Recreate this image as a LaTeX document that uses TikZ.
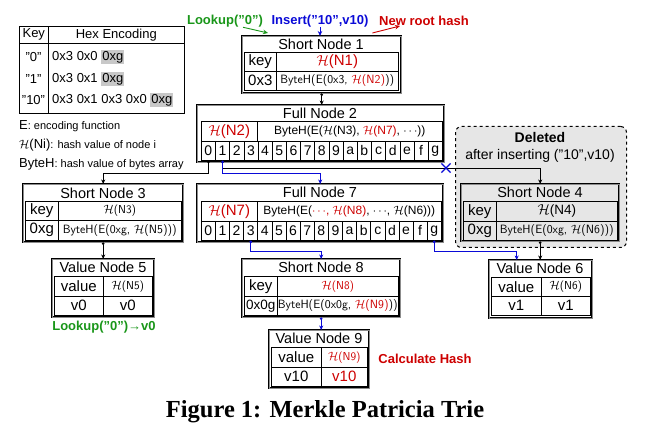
\documentclass[tikz,border=0pt]{standalone}
\usepackage{fontspec}
\setmainfont{Liberation Sans}
\newfontfamily\capfont{Liberation Serif}
\usetikzlibrary{arrows.meta,calc,shapes.misc}

\definecolor{lkgreen}{RGB}{25,150,25}
\definecolor{insblue}{RGB}{10,10,215}
\definecolor{hashred}{RGB}{205,0,0}
\definecolor{delgray}{RGB}{230,230,230}
\definecolor{hlgray}{RGB}{200,200,200}

\newcommand{\hashof}[1]{$\mathcal{H}$(#1)}
\newcommand{\inred}[1]{\textcolor{hashred}{#1}}
\newcommand{\hlbox}[1]{{\setlength{\fboxsep}{1pt}\colorbox{hlgray}{#1}}}
\newcommand{\fs}[1]{\fontsize{#1}{#1}\selectfont}

\begin{document}
\begin{tikzpicture}[x=1pt,y=-1pt,
  frame/.style={draw=black, double=black!45, double distance=1.1pt, line width=.4pt, inner sep=0, anchor=north west},
  cell/.style={draw, line width=.6pt, inner sep=0, anchor=north west, font=\fs{15}},
  ttl/.style={font=\fs{14.5}, inner sep=0},
  byteh/.style={font=\sffamily\fs{12}},
  hsm/.style={font=\sffamily\fs{11.5}},
  hx/.style={font=\fs{13}, inner sep=0},
  tag/.style={font=\bfseries\fs{13}, inner sep=0},
  arr/.style={line width=.9pt, -{Stealth[length=5pt,width=4.5pt]}},
  link/.style={line width=.8pt, {Circle[length=2.6pt]}-{Stealth[length=4.5pt,width=4pt]}}]
\useasboundingbox (0,0) rectangle (649,438);

% hex encoding table and legend
\node[cell, font=\fs{13}, minimum width=29pt, minimum height=17pt] (hkey) at (19,26) {Key};
\node[cell, font=\fs{13}, minimum width=136pt, minimum height=17pt] (henc) at (48,26) {Hex Encoding};
\node[cell, minimum width=29pt, minimum height=70pt] (hkcol) at (19,43) {};
\node[cell, minimum width=136pt, minimum height=70pt] (hecol) at (48,43) {};
\node[hx] (k0) at (33.5,57) {"0"};
\node[hx] (k1) at (33.5,79) {"1"};
\node[hx] (k10) at (33.5,100) {"10"};
\node[hx, anchor=west] (e0) at (52,57) {0x3 0x0 \hlbox{0xg}};
\node[hx, anchor=west] (e1) at (52,79) {0x3 0x1 \hlbox{0xg}};
\node[hx, anchor=west] (e10) at (52,100) {0x3 0x1 0x3 0x0 \hlbox{0xg}};
\node[hx, anchor=west] (lgE) at (19,126) {E{\fs{11}: encoding function}};
\node[hx, anchor=west] (lgH) at (19,145) {\hashof{Ni}{\fs{11}: hash value of node i}};
\node[hx, anchor=west] (lgB) at (19,164) {ByteH{\fs{11}: hash value of bytes array}};

% operations
\node[tag, text=lkgreen] (lkp) at (225,21) {Lookup("0")};
\node[tag, text=insblue] (ins) at (320,21) {Insert("10",v10)};
\node[tag, text=hashred, anchor=west] (nrh) at (379,21) {New root hash};

% deleted part
\node[draw, dashed, line width=1pt, rounded corners=6pt, fill=delgray, anchor=north west,
  minimum width=171pt, minimum height=121pt, inner sep=0] (del) at (455,126) {};
\node[font=\bfseries\fs{14}, inner sep=0] (delt) at (540,137) {Deleted};
\node[font=\fs{14}, inner sep=0] (dels) at (540,156) {after inserting ("10",v10)};

% short node 1
\node[frame, minimum width=159pt, minimum height=57pt] (sn1) at (242,36) {};
\node[ttl] (sn1t) at (321,44) {Short Node 1};
\node[cell, minimum width=32pt, minimum height=19pt] (sn1k) at (244,52) {key};
\node[cell, minimum width=122pt, minimum height=19pt, text=hashred] (sn1h) at (276,52) {\hashof{N1}};
\node[cell, minimum width=32pt, minimum height=19pt] (sn1p) at (244,71) {0x3};
\node[cell, byteh, minimum width=122pt, minimum height=19pt] (sn1b) at (276,71) {ByteH(E(0x3, \inred{\hashof{N2}}))};

% full node 2
\node[frame, minimum width=247pt, minimum height=57pt] (fn2) at (197,105) {};
\node[ttl] (fn2t) at (320,113) {Full Node 2};
\node[cell, minimum width=56pt, minimum height=20pt, text=hashred] (fn2h) at (201,121) {\hashof{N2}};
\node[cell, font=\fs{12}, minimum width=185pt, minimum height=20pt] (fn2b) at (257,121) {ByteH(E(\hashof{N3}, \inred{\hashof{N7}}, $\cdots$))};
\foreach \c [count=\i from 0] in {0,1,2,3,4,5,6,7,8,9,a,b,c,d,e,f,g}
  \node[cell, font=\fs{14}, minimum width=14.18pt, minimum height=19pt] (fn2c\c) at ({201+14.18*\i},141) {\c};

% short node 3 and value node 5
\node[frame, minimum width=160pt, minimum height=58pt] (sn3) at (23,184) {};
\node[ttl] (sn3t) at (103,193) {Short Node 3};
\node[cell, minimum width=33pt, minimum height=19pt] (sn3k) at (25,201) {key};
\node[cell, hsm, minimum width=123pt, minimum height=19pt] (sn3h) at (58,201) {\hashof{N3}};
\node[cell, minimum width=33pt, minimum height=20pt] (sn3p) at (25,220) {0xg};
\node[cell, byteh, minimum width=123pt, minimum height=20pt] (sn3b) at (58,220) {ByteH(E(0xg, \hashof{N5}))};

\node[frame, minimum width=102pt, minimum height=58pt] (vn5) at (52,259) {};
\node[ttl] (vn5t) at (103,267) {Value Node 5};
\node[cell, minimum width=49pt, minimum height=20pt] (vn5k) at (54,276) {value};
\node[cell, hsm, minimum width=49pt, minimum height=20pt] (vn5h) at (103,276) {\hashof{N5}};
\node[cell, minimum width=49pt, minimum height=19pt] (vn5v) at (54,296) {v0};
\node[cell, minimum width=49pt, minimum height=19pt] (vn5w) at (103,296) {v0};
\node[tag, text=lkgreen] (lkr) at (104,327) {Lookup("0")→v0};

% full node 7
\node[frame, minimum width=246pt, minimum height=58pt] (fn7) at (197,184) {};
\node[ttl] (fn7t) at (320,192) {Full Node 7};
\node[cell, minimum width=56pt, minimum height=20pt, text=hashred] (fn7h) at (201,201) {\hashof{N7}};
\node[cell, font=\fs{12}, minimum width=184pt, minimum height=20pt] (fn7b) at (257,201) {ByteH(E(\inred{$\cdots$, \hashof{N8}}, $\cdots$, \hashof{N6}))};
\foreach \c [count=\i from 0] in {0,1,2,3,4,5,6,7,8,9,a,b,c,d,e,f,g}
  \node[cell, font=\fs{14}, minimum width=14.12pt, minimum height=19pt] (fn7c\c) at ({201+14.12*\i},221) {\c};

% short node 4 and value node 6
\node[frame, minimum width=158pt, minimum height=57pt] (sn4) at (461,184) {};
\node[ttl] (sn4t) at (540,192) {Short Node 4};
\node[cell, minimum width=33pt, minimum height=20pt] (sn4k) at (463,201) {key};
\node[cell, hsm, font=\fs{13.5}, minimum width=121pt, minimum height=20pt] (sn4h) at (496,201) {\hashof{N4}};
\node[cell, minimum width=33pt, minimum height=19pt] (sn4p) at (463,221) {0xg};
\node[cell, byteh, minimum width=121pt, minimum height=19pt] (sn4b) at (496,221) {ByteH(E(0xg, \hashof{N6}))};

\node[frame, minimum width=103pt, minimum height=58pt] (vn6) at (489,260) {};
\node[ttl] (vn6t) at (540,268) {Value Node 6};
\node[cell, minimum width=50pt, minimum height=19pt] (vn6k) at (491,277) {value};
\node[cell, hsm, minimum width=49pt, minimum height=19pt] (vn6h) at (541,277) {\hashof{N6}};
\node[cell, minimum width=50pt, minimum height=19pt] (vn6v) at (491,296) {v1};
\node[cell, minimum width=49pt, minimum height=19pt] (vn6w) at (541,296) {v1};

% short node 8 and value node 9
\node[frame, minimum width=158pt, minimum height=58pt] (sn8) at (242,259) {};
\node[ttl] (sn8t) at (321,267) {Short Node 8};
\node[cell, minimum width=33pt, minimum height=20pt] (sn8k) at (244,276) {key};
\node[cell, hsm, text=hashred, minimum width=121pt, minimum height=20pt] (sn8h) at (277,276) {\hashof{N8}};
\node[cell, font=\fs{13.5}, minimum width=33pt, minimum height=19pt] (sn8p) at (244,296) {0x0g};
\node[cell, byteh, minimum width=121pt, minimum height=19pt] (sn8b) at (277,296) {ByteH(E(0x0g, \inred{\hashof{N9}}))};

\node[frame, minimum width=100pt, minimum height=58pt] (vn9) at (269,330) {};
\node[ttl] (vn9t) at (319,338) {Value Node 9};
\node[cell, minimum width=50pt, minimum height=20pt] (vn9k) at (271,347) {value};
\node[cell, hsm, text=hashred, minimum width=46pt, minimum height=20pt] (vn9h) at (321,347) {\hashof{N9}};
\node[cell, minimum width=50pt, minimum height=19pt] (vn9v) at (271,367) {v10};
\node[cell, text=hashred, minimum width=46pt, minimum height=19pt] (vn9w) at (321,367) {v10};
\node[tag, text=hashred] (calc) at (425,359) {Calculate Hash};

% connectors
\draw[arr, lkgreen] ([xshift=18pt]lkp.south) -- ([xshift=26pt,yshift=3pt]sn1.north west);
\draw[arr, insblue] (ins.south) -- (ins.south |- sn1.north);
\draw[arr, hashred] ([xshift=-29pt,yshift=3pt]sn1.north east) -- ([xshift=21pt]nrh.south west);
\draw[link] (sn1.south) -- (sn1.south |- fn2.north);
\draw[link] (fn2c0.south) -- ++(0,13) -| (sn3.north);
\draw[link] (fn2c1.south) -- ++(0,8) -| (sn4.north);
\draw[link, insblue] (fn2c1.south) -- ++(0,13) -| (fn7.north);
\node[cross out, draw=insblue, line width=1.2pt, minimum size=8pt, inner sep=0] (cut) at (446,168) {};
\draw[link] (sn3.south) -- (sn3.south |- vn5.north);
\draw[link] (sn4.south) -- (sn4.south |- vn6.north);
\draw[link, insblue] (fn7c3.south) -- ++(0,11) -| (sn8.north);
\draw[link, insblue] (fn7cg.south) -- ++(0,11) -| ([xshift=-24pt]vn6.north);
\draw[link, insblue] (sn8.south) -- (sn8.south |- vn9.north);

% caption
\node[font=\capfont\bfseries\fs{24.5}, inner sep=0] (cap) at (325,412) {Figure 1: Merkle Patricia Trie};
\end{tikzpicture}
\end{document}
